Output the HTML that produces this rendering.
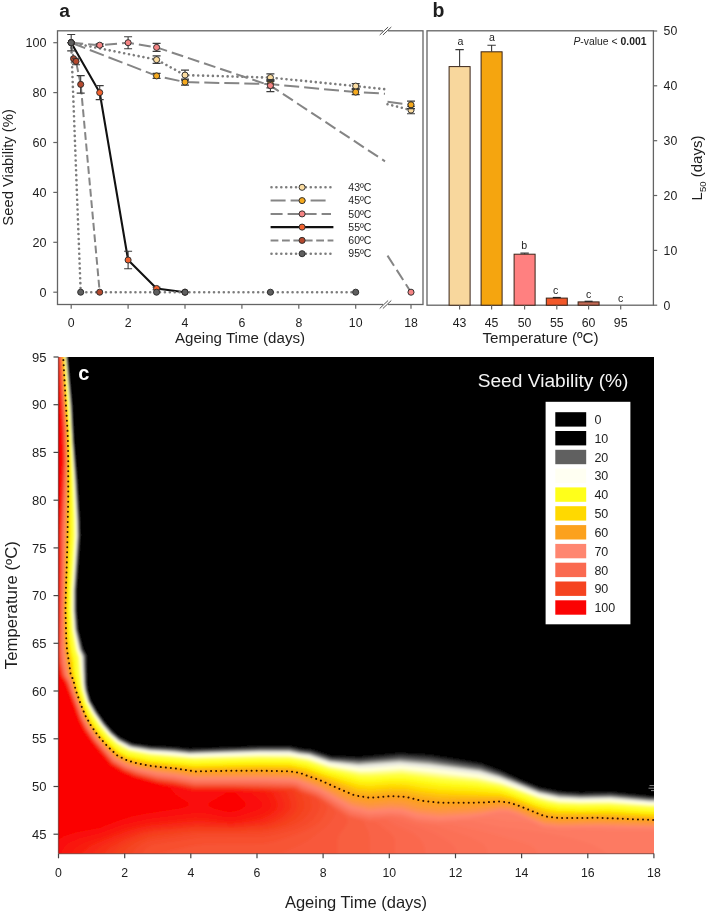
<!DOCTYPE html>
<html><head><meta charset="utf-8"><title>Seed viability</title>
<style>html,body{margin:0;padding:0;background:#fff;}svg{display:block;}text{font-family:"Liberation Sans", Arial, sans-serif;}</style>
</head><body>
<svg width="708" height="913" viewBox="0 0 708 913">
<rect width="708" height="913" fill="#fff"/>
<g fill="#1e1e1e">
<rect x="57.5" y="30.8" width="365.5" height="273.7" fill="none" stroke="#646464" stroke-width="1.3"/>
<rect x="383" y="28" width="5" height="6" fill="#fff"/>
<rect x="383" y="301.5" width="5" height="6" fill="#fff"/>
<line x1="379.7" y1="35.0" x2="388.1" y2="27.0" stroke="#555" stroke-width="1"/>
<line x1="382.9" y1="35.0" x2="391.3" y2="27.0" stroke="#555" stroke-width="1"/>
<line x1="379.7" y1="308.5" x2="388.1" y2="300.5" stroke="#555" stroke-width="1"/>
<line x1="382.9" y1="308.5" x2="391.3" y2="300.5" stroke="#555" stroke-width="1"/>
<line x1="53.3" y1="292.2" x2="57.5" y2="292.2" stroke="#646464" stroke-width="1.2"/>
<text x="46.5" y="296.7" text-anchor="end" font-size="12.6">0</text>
<line x1="53.3" y1="242.3" x2="57.5" y2="242.3" stroke="#646464" stroke-width="1.2"/>
<text x="46.5" y="246.8" text-anchor="end" font-size="12.6">20</text>
<line x1="53.3" y1="192.4" x2="57.5" y2="192.4" stroke="#646464" stroke-width="1.2"/>
<text x="46.5" y="196.9" text-anchor="end" font-size="12.6">40</text>
<line x1="53.3" y1="142.5" x2="57.5" y2="142.5" stroke="#646464" stroke-width="1.2"/>
<text x="46.5" y="147.0" text-anchor="end" font-size="12.6">60</text>
<line x1="53.3" y1="92.6" x2="57.5" y2="92.6" stroke="#646464" stroke-width="1.2"/>
<text x="46.5" y="97.1" text-anchor="end" font-size="12.6">80</text>
<line x1="53.3" y1="42.7" x2="57.5" y2="42.7" stroke="#646464" stroke-width="1.2"/>
<text x="46.5" y="47.2" text-anchor="end" font-size="12.6">100</text>
<line x1="71.2" y1="304.5" x2="71.2" y2="308.8" stroke="#646464" stroke-width="1.2"/>
<text x="71.2" y="326.6" text-anchor="middle" font-size="12.3">0</text>
<line x1="128.1" y1="304.5" x2="128.1" y2="308.8" stroke="#646464" stroke-width="1.2"/>
<text x="128.1" y="326.6" text-anchor="middle" font-size="12.3">2</text>
<line x1="185.0" y1="304.5" x2="185.0" y2="308.8" stroke="#646464" stroke-width="1.2"/>
<text x="185.0" y="326.6" text-anchor="middle" font-size="12.3">4</text>
<line x1="241.9" y1="304.5" x2="241.9" y2="308.8" stroke="#646464" stroke-width="1.2"/>
<text x="241.9" y="326.6" text-anchor="middle" font-size="12.3">6</text>
<line x1="298.8" y1="304.5" x2="298.8" y2="308.8" stroke="#646464" stroke-width="1.2"/>
<text x="298.8" y="326.6" text-anchor="middle" font-size="12.3">8</text>
<line x1="355.7" y1="304.5" x2="355.7" y2="308.8" stroke="#646464" stroke-width="1.2"/>
<text x="355.7" y="326.6" text-anchor="middle" font-size="12.3">10</text>
<line x1="411.0" y1="304.5" x2="411.0" y2="308.8" stroke="#646464" stroke-width="1.2"/>
<text x="411.0" y="326.6" text-anchor="middle" font-size="12.3">18</text>
<text x="240" y="343" text-anchor="middle" font-size="15.1">Ageing Time (days)</text>
<text transform="translate(13.1,167.4) rotate(-90)" x="-58.25" font-size="15.5" textLength="116.5" lengthAdjust="spacingAndGlyphs">Seed Viability (%)</text>
<text x="59.3" y="17" font-size="19.2" font-weight="bold">a</text>
<path d="M71.2 42.7 L156.6 59.7 L185.0 75.1 L270.4 77.6 L355.7 86.1 L385.0 89.2" fill="none" stroke="#7c7c7c" stroke-width="2.6" stroke-linecap="round" stroke-dasharray="0.01 4.9"/>
<path d="M387.5 104.2 L411.0 110.1" fill="none" stroke="#7c7c7c" stroke-width="2.6" stroke-linecap="round" stroke-dasharray="0.01 4.9"/>
<path d="M71.2 42.7 L156.6 75.9 L185.0 82.1 L270.4 84.1 L355.7 92.1 L385.0 93.7" fill="none" stroke="#858585" stroke-width="2.0" stroke-linecap="butt" stroke-dasharray="15 5"/>
<path d="M387.5 101.7 L411.0 104.8" fill="none" stroke="#858585" stroke-width="2.0" stroke-linecap="butt" stroke-dasharray="15 5"/>
<path d="M71.2 42.7 L99.7 45.2 L128.1 42.7 L156.6 47.4 L270.4 85.6 L385.0 161.3" fill="none" stroke="#858585" stroke-width="2.0" stroke-linecap="butt" stroke-dasharray="12 5"/>
<path d="M387.5 255.6 L411.0 292.2" fill="none" stroke="#858585" stroke-width="2.0" stroke-linecap="butt" stroke-dasharray="12 5"/>
<path d="M71.2 42.7 L99.7 92.6 L128.1 260.0 L156.6 288.5 L185.0 292.2" fill="none" stroke="#111" stroke-width="2.1" stroke-linecap="butt"/>
<path d="M71.2 42.7 L73.6 58.7 L76.0 61.4 L80.7 84.4 L99.7 292.2" fill="none" stroke="#858585" stroke-width="2.0" stroke-linecap="butt" stroke-dasharray="7.8 3.6"/>
<path d="M71.2 42.7 L80.7 292.2 L156.6 292.2 L185.0 292.2 L270.4 292.2 L355.7 292.2" fill="none" stroke="#7c7c7c" stroke-width="2.6" stroke-linecap="round" stroke-dasharray="0.01 4.9"/>
<circle cx="71.2" cy="42.7" r="3.05" fill="#fbdca0" stroke="#2a2a2a" stroke-width="0.95"/>
<path d="M156.6 55.9V63.4M152.6 55.9H160.6M152.6 63.4H160.6" stroke="#3c3c3c" stroke-width="1.1" fill="none"/>
<circle cx="156.6" cy="59.7" r="3.05" fill="#fbdca0" stroke="#2a2a2a" stroke-width="0.95"/>
<path d="M185.0 70.1V80.1M181.0 70.1H189.0M181.0 80.1H189.0" stroke="#3c3c3c" stroke-width="1.1" fill="none"/>
<circle cx="185.0" cy="75.1" r="3.05" fill="#fbdca0" stroke="#2a2a2a" stroke-width="0.95"/>
<path d="M270.4 73.9V81.4M266.4 73.9H274.4M266.4 81.4H274.4" stroke="#3c3c3c" stroke-width="1.1" fill="none"/>
<circle cx="270.4" cy="77.6" r="3.05" fill="#fbdca0" stroke="#2a2a2a" stroke-width="0.95"/>
<path d="M355.7 83.6V88.6M351.7 83.6H359.7M351.7 88.6H359.7" stroke="#3c3c3c" stroke-width="1.1" fill="none"/>
<circle cx="355.7" cy="86.1" r="3.05" fill="#fbdca0" stroke="#2a2a2a" stroke-width="0.95"/>
<path d="M411.0 106.3V113.8M407.0 106.3H415.0M407.0 113.8H415.0" stroke="#3c3c3c" stroke-width="1.1" fill="none"/>
<circle cx="411.0" cy="110.1" r="3.05" fill="#fbdca0" stroke="#2a2a2a" stroke-width="0.95"/>
<circle cx="71.2" cy="42.7" r="3.05" fill="#f5a91e" stroke="#2a2a2a" stroke-width="0.95"/>
<path d="M156.6 73.4V78.4M152.6 73.4H160.6M152.6 78.4H160.6" stroke="#3c3c3c" stroke-width="1.1" fill="none"/>
<circle cx="156.6" cy="75.9" r="3.05" fill="#f5a91e" stroke="#2a2a2a" stroke-width="0.95"/>
<path d="M185.0 79.1V85.1M181.0 79.1H189.0M181.0 85.1H189.0" stroke="#3c3c3c" stroke-width="1.1" fill="none"/>
<circle cx="185.0" cy="82.1" r="3.05" fill="#f5a91e" stroke="#2a2a2a" stroke-width="0.95"/>
<path d="M270.4 80.4V87.9M266.4 80.4H274.4M266.4 87.9H274.4" stroke="#3c3c3c" stroke-width="1.1" fill="none"/>
<circle cx="270.4" cy="84.1" r="3.05" fill="#f5a91e" stroke="#2a2a2a" stroke-width="0.95"/>
<path d="M355.7 89.6V94.6M351.7 89.6H359.7M351.7 94.6H359.7" stroke="#3c3c3c" stroke-width="1.1" fill="none"/>
<circle cx="355.7" cy="92.1" r="3.05" fill="#f5a91e" stroke="#2a2a2a" stroke-width="0.95"/>
<path d="M411.0 101.1V108.6M407.0 101.1H415.0M407.0 108.6H415.0" stroke="#3c3c3c" stroke-width="1.1" fill="none"/>
<circle cx="411.0" cy="104.8" r="3.05" fill="#f5a91e" stroke="#2a2a2a" stroke-width="0.95"/>
<circle cx="71.2" cy="42.7" r="3.05" fill="#f58484" stroke="#2a2a2a" stroke-width="0.95"/>
<path d="M99.7 43.9V46.4M95.7 43.9H103.7M95.7 46.4H103.7" stroke="#3c3c3c" stroke-width="1.1" fill="none"/>
<circle cx="99.7" cy="45.2" r="3.05" fill="#f58484" stroke="#2a2a2a" stroke-width="0.95"/>
<path d="M128.1 36.7V48.7M124.1 36.7H132.1M124.1 48.7H132.1" stroke="#3c3c3c" stroke-width="1.1" fill="none"/>
<circle cx="128.1" cy="42.7" r="3.05" fill="#f58484" stroke="#2a2a2a" stroke-width="0.95"/>
<path d="M156.6 43.4V51.4M152.6 43.4H160.6M152.6 51.4H160.6" stroke="#3c3c3c" stroke-width="1.1" fill="none"/>
<circle cx="156.6" cy="47.4" r="3.05" fill="#f58484" stroke="#2a2a2a" stroke-width="0.95"/>
<path d="M270.4 79.6V91.6M266.4 79.6H274.4M266.4 91.6H274.4" stroke="#3c3c3c" stroke-width="1.1" fill="none"/>
<circle cx="270.4" cy="85.6" r="3.05" fill="#f58484" stroke="#2a2a2a" stroke-width="0.95"/>
<circle cx="411.0" cy="292.2" r="3.05" fill="#f58484" stroke="#2a2a2a" stroke-width="0.95"/>
<circle cx="71.2" cy="42.7" r="3.05" fill="#f2622f" stroke="#2a2a2a" stroke-width="0.95"/>
<path d="M99.7 85.6V99.6M95.7 85.6H103.7M95.7 99.6H103.7" stroke="#3c3c3c" stroke-width="1.1" fill="none"/>
<circle cx="99.7" cy="92.6" r="3.05" fill="#f2622f" stroke="#2a2a2a" stroke-width="0.95"/>
<path d="M128.1 251.3V268.7M124.1 251.3H132.1M124.1 268.7H132.1" stroke="#3c3c3c" stroke-width="1.1" fill="none"/>
<circle cx="128.1" cy="260.0" r="3.05" fill="#f2622f" stroke="#2a2a2a" stroke-width="0.95"/>
<path d="M156.6 287.2V289.7M152.6 287.2H160.6M152.6 289.7H160.6" stroke="#3c3c3c" stroke-width="1.1" fill="none"/>
<circle cx="156.6" cy="288.5" r="3.05" fill="#f2622f" stroke="#2a2a2a" stroke-width="0.95"/>
<circle cx="185.0" cy="292.2" r="3.05" fill="#f2622f" stroke="#2a2a2a" stroke-width="0.95"/>
<circle cx="71.2" cy="42.7" r="3.05" fill="#b5492e" stroke="#2a2a2a" stroke-width="0.95"/>
<circle cx="73.6" cy="58.7" r="3.05" fill="#b5492e" stroke="#2a2a2a" stroke-width="0.95"/>
<path d="M76.0 58.2V64.7M72.0 58.2H80.0M72.0 64.7H80.0" stroke="#3c3c3c" stroke-width="1.1" fill="none"/>
<circle cx="76.0" cy="61.4" r="3.05" fill="#b5492e" stroke="#2a2a2a" stroke-width="0.95"/>
<path d="M80.7 75.6V93.1M76.7 75.6H84.7M76.7 93.1H84.7" stroke="#3c3c3c" stroke-width="1.1" fill="none"/>
<circle cx="80.7" cy="84.4" r="3.05" fill="#b5492e" stroke="#2a2a2a" stroke-width="0.95"/>
<circle cx="99.7" cy="292.2" r="3.05" fill="#b5492e" stroke="#2a2a2a" stroke-width="0.95"/>
<path d="M71.2 34.5V50.9M67.2 34.5H75.2M67.2 50.9H75.2" stroke="#3c3c3c" stroke-width="1.1" fill="none"/>
<circle cx="71.2" cy="42.7" r="3.05" fill="#5f5f5f" stroke="#2a2a2a" stroke-width="0.95"/>
<circle cx="80.7" cy="292.2" r="3.05" fill="#5f5f5f" stroke="#2a2a2a" stroke-width="0.95"/>
<circle cx="156.6" cy="292.2" r="3.05" fill="#5f5f5f" stroke="#2a2a2a" stroke-width="0.95"/>
<circle cx="185.0" cy="292.2" r="3.05" fill="#5f5f5f" stroke="#2a2a2a" stroke-width="0.95"/>
<circle cx="270.4" cy="292.2" r="3.05" fill="#5f5f5f" stroke="#2a2a2a" stroke-width="0.95"/>
<circle cx="355.7" cy="292.2" r="3.05" fill="#5f5f5f" stroke="#2a2a2a" stroke-width="0.95"/>
<line x1="271.5" y1="187.3" x2="333.0" y2="187.3" stroke="#7c7c7c" stroke-width="2.6" stroke-linecap="round" stroke-dasharray="0.01 4.9"/>
<circle cx="302.1" cy="187.3" r="3.05" fill="#fbdca0" stroke="#2a2a2a" stroke-width="0.95"/>
<text x="348.3" y="191.0" font-size="10.5">43&#186;C</text>
<line x1="270.6" y1="200.6" x2="327.3" y2="200.6" stroke="#858585" stroke-width="2.0" stroke-linecap="butt" stroke-dasharray="15 5"/>
<circle cx="302.1" cy="200.6" r="3.05" fill="#f5a91e" stroke="#2a2a2a" stroke-width="0.95"/>
<text x="348.3" y="204.3" font-size="10.5">45&#186;C</text>
<line x1="270.6" y1="213.9" x2="331.0" y2="213.9" stroke="#858585" stroke-width="2.0" stroke-linecap="butt" stroke-dasharray="12 5"/>
<circle cx="302.1" cy="213.9" r="3.05" fill="#f58484" stroke="#2a2a2a" stroke-width="0.95"/>
<text x="348.3" y="217.6" font-size="10.5">50&#186;C</text>
<line x1="270.6" y1="227.1" x2="333.4" y2="227.1" stroke="#111" stroke-width="2.1" stroke-linecap="butt"/>
<circle cx="302.1" cy="227.1" r="3.05" fill="#f2622f" stroke="#2a2a2a" stroke-width="0.95"/>
<text x="348.3" y="230.8" font-size="10.5">55&#186;C</text>
<line x1="270.6" y1="240.4" x2="333.4" y2="240.4" stroke="#858585" stroke-width="2.0" stroke-linecap="butt" stroke-dasharray="7.8 3.6"/>
<circle cx="302.1" cy="240.4" r="3.05" fill="#b5492e" stroke="#2a2a2a" stroke-width="0.95"/>
<text x="348.3" y="244.1" font-size="10.5">60&#186;C</text>
<line x1="271.5" y1="253.7" x2="333.0" y2="253.7" stroke="#7c7c7c" stroke-width="2.6" stroke-linecap="round" stroke-dasharray="0.01 4.9"/>
<circle cx="302.1" cy="253.7" r="3.05" fill="#5f5f5f" stroke="#2a2a2a" stroke-width="0.95"/>
<text x="348.3" y="257.4" font-size="10.5">95&#186;C</text>
<rect x="427" y="30.8" width="226.4" height="274.4" fill="none" stroke="#646464" stroke-width="1.3"/>
<line x1="653.4" y1="305.2" x2="657.2" y2="305.2" stroke="#646464" stroke-width="1.2"/>
<text x="663.6" y="309.6" font-size="12.3">0</text>
<line x1="653.4" y1="250.4" x2="657.2" y2="250.4" stroke="#646464" stroke-width="1.2"/>
<text x="663.6" y="254.8" font-size="12.3">10</text>
<line x1="653.4" y1="195.5" x2="657.2" y2="195.5" stroke="#646464" stroke-width="1.2"/>
<text x="663.6" y="199.9" font-size="12.3">20</text>
<line x1="653.4" y1="140.7" x2="657.2" y2="140.7" stroke="#646464" stroke-width="1.2"/>
<text x="663.6" y="145.1" font-size="12.3">30</text>
<line x1="653.4" y1="85.8" x2="657.2" y2="85.8" stroke="#646464" stroke-width="1.2"/>
<text x="663.6" y="90.2" font-size="12.3">40</text>
<line x1="653.4" y1="31.0" x2="657.2" y2="31.0" stroke="#646464" stroke-width="1.2"/>
<text x="663.6" y="35.4" font-size="12.3">50</text>
<rect x="449.1" y="66.6" width="21" height="238.6" fill="#f8d79d" stroke="#3a2418" stroke-width="1"/>
<path d="M459.6 66.6V49.6M455.4 49.6H463.8" stroke="#3a3a3a" stroke-width="1.1" fill="none"/>
<line x1="459.6" y1="305.2" x2="459.6" y2="309.4" stroke="#646464" stroke-width="1.2"/>
<text x="459.6" y="327.2" text-anchor="middle" font-size="12.3">43</text>
<text x="460.5" y="45.4" text-anchor="middle" font-size="10.6">a</text>
<rect x="481.1" y="51.8" width="21" height="253.4" fill="#f5a50f" stroke="#3a2418" stroke-width="1"/>
<path d="M491.6 51.8V45.3M487.4 45.3H495.8" stroke="#3a3a3a" stroke-width="1.1" fill="none"/>
<line x1="491.6" y1="305.2" x2="491.6" y2="309.4" stroke="#646464" stroke-width="1.2"/>
<text x="491.6" y="327.2" text-anchor="middle" font-size="12.3">45</text>
<text x="492.0" y="41.1" text-anchor="middle" font-size="10.6">a</text>
<rect x="514.1" y="254.2" width="21" height="51.0" fill="#ff8080" stroke="#3a2418" stroke-width="1"/>
<path d="M524.6 254.2V253.1M520.4 253.1H528.8" stroke="#3a3a3a" stroke-width="1.1" fill="none"/>
<line x1="524.6" y1="305.2" x2="524.6" y2="309.4" stroke="#646464" stroke-width="1.2"/>
<text x="524.6" y="327.2" text-anchor="middle" font-size="12.3">50</text>
<text x="524.2" y="248.9" text-anchor="middle" font-size="10.6">b</text>
<rect x="546.3" y="298.1" width="21" height="7.1" fill="#f2582a" stroke="#3a2418" stroke-width="1"/>
<path d="M552.8 297.5H560.8" stroke="#222" stroke-width="1.2"/>
<line x1="556.8" y1="305.2" x2="556.8" y2="309.4" stroke="#646464" stroke-width="1.2"/>
<text x="556.8" y="327.2" text-anchor="middle" font-size="12.3">55</text>
<text x="555.6" y="294.1" text-anchor="middle" font-size="10.6">c</text>
<rect x="578.1" y="301.9" width="21" height="3.3" fill="#c46a55" stroke="#3a2418" stroke-width="1"/>
<path d="M584.6 301.3H592.6" stroke="#222" stroke-width="1.2"/>
<line x1="588.6" y1="305.2" x2="588.6" y2="309.4" stroke="#646464" stroke-width="1.2"/>
<text x="588.6" y="327.2" text-anchor="middle" font-size="12.3">60</text>
<text x="588.6" y="298.2" text-anchor="middle" font-size="10.6">c</text>
<line x1="620.7" y1="305.2" x2="620.7" y2="309.4" stroke="#646464" stroke-width="1.2"/>
<text x="620.7" y="327.2" text-anchor="middle" font-size="12.3">95</text>
<text x="620.7" y="301.8" text-anchor="middle" font-size="10.6">c</text>
<text x="540.6" y="342.8" text-anchor="middle" font-size="15.2">Temperature (&#186;C)</text>
<text x="646.5" y="45.3" text-anchor="end" font-size="10.4"><tspan font-style="italic">P</tspan>-value &lt; <tspan font-weight="bold">0.001</tspan></text>
<text transform="translate(702,168) rotate(-90)" text-anchor="middle" font-size="15">L<tspan font-size="9.5" dy="3.8">50</tspan><tspan dy="-3.8"> (days)</tspan></text>
<text x="432.6" y="17" font-size="19.5" font-weight="bold">b</text>
<defs><clipPath id="cc"><rect x="58.5" y="357.0" width="595.5" height="496.6"/></clipPath><filter id="bl" x="-5%" y="-5%" width="110%" height="110%"><feGaussianBlur stdDeviation="1.1"/></filter><filter id="bl2" x="-5%" y="-5%" width="110%" height="110%"><feGaussianBlur stdDeviation="1.8"/></filter></defs>
<g clip-path="url(#cc)"><g filter="url(#bl2)"><rect x="40" y="340" width="640" height="540" fill="#fb0303"/><path fill-rule="evenodd" fill="#fa0f08" d="M59.5 346.5 665.5 346.5 665.5 865.5 48.5 865.5 48.5 850.1 56.5 840.8 64.5 835.9 76.5 832.2 99.5 828 117.5 820.9 132.5 816.3 143.5 814 179.3 808.5 186.9 806.5 189.3 804.5 187.8 802.5 175.5 794.5 169.8 787.5 135.5 778.1 123.5 772.9 110.5 764.9 92.1 742.5 83.8 730.5 78 718.5 74.5 707.4 68 691.5 65.5 683.7 61.1 677.5 60 674.5 57.7 664.5 56.7 650.5 58 631.5 59 582.5 59.1 534.5 62.9 459.5 62.5 434.5 58 358.5 58 349.5 59.5 346.5ZM226.8 792.5 209.5 802.5 207.8 804.5 208 805.5 213.9 808.5 225.5 811.5 230.5 812.1 238 810.5 242.3 808.5 244.9 806.5 245.7 804.5 245.1 802.5 236.6 793.5 234.5 792.5 226.8 792.5Z"/><path fill-rule="evenodd" fill="#f9170c" d="M59.5 347.1 59.9 346.5 665.5 346.5 665.5 865.5 57.9 865.5 59 859.5 62.4 850.5 65.5 845.9 69.5 842.7 78.5 838.7 99.5 833.6 121.5 825.2 148.5 819 195.5 813 204.5 813.3 227.5 817.4 234.5 817.3 244.6 814.5 258.6 809.5 261.6 807.5 262.8 804.5 260.4 800.5 250.8 792.5 245.8 791.5 230.5 790.7 197.5 792.2 179.7 787.5 155.5 783.2 134.5 777.1 123.5 772.3 112.5 765.8 109.9 763.5 91.9 741.5 84.4 730.5 78.9 719.5 74.5 706.2 65.5 682.6 61.1 676.5 58 663.5 57.3 651.5 58.5 632.5 59.5 584.5 59.8 528.5 61.5 504.5 63.4 460.5 62.5 426.2 58.6 362.5 58.5 350.5 59.5 347.1Z"/><path fill-rule="evenodd" fill="#f81f10" d="M60.5 346.5 665.5 346.5 665.5 865.5 66.9 865.5 68 860.5 71.5 853.6 75.3 848.5 78.9 845.5 85.5 842.2 101.5 837.3 125.5 828 148.5 822.8 195.5 817.6 203.5 817.7 227.5 820.9 237.3 820.5 250.7 817.5 263.5 813.4 269.2 809.5 270.6 807.5 271.1 804.5 269.9 800.5 265.5 793.8 264.3 792.5 261 791.5 231.5 790.1 193.5 790.1 183.4 787.5 156.5 783 135.5 777 123.5 771.8 112.5 765.4 110.4 763.5 92.3 741.5 84.7 730.5 79.3 719.5 65.7 682.5 61.1 675.5 58.4 663.5 57.7 651.5 58.8 631.5 59.7 583.5 59.9 534.5 63.6 460.5 62.6 422.5 58.7 358.5 58.7 349.5 60.5 346.5Z"/><path fill-rule="evenodd" fill="#f82713" d="M60.5 346.6 665.5 346.5 665.5 865.5 75.9 865.5 76.9 861.5 79.8 856.5 83.8 851.5 88.5 847.4 93.9 844.5 116.5 835 130.5 829.9 141.5 827.1 151.5 825.3 195.5 821.1 202.5 821 230.5 823.5 248.4 821.5 261.5 818.7 269 815.5 273.2 812.5 276.1 809.5 277.2 807.5 277.7 804.5 276.7 800.5 273.1 793.5 270.7 791.5 259.5 790.4 231.5 789.5 194.5 789.6 175.6 785.5 157.5 782.7 133.5 775.8 123.5 771.4 110.8 763.5 91.9 740.5 85 730.5 79.6 719.5 66.5 683.6 61.5 675.5 58.7 663.5 57.9 651.5 59 631.5 60 582.5 60.1 534.5 63.8 460.5 63.5 437.5 58.8 357.5 58.9 349.5 60.5 346.6Z"/><path fill-rule="evenodd" fill="#f72f17" d="M60.5 346.9 665.5 346.5 665.5 865.5 84.8 865.5 86.2 861.5 89.5 856.9 94.7 851.5 100 847.5 115.1 839.5 135.8 831.5 152.5 827.8 194.5 823.9 202.5 823.7 232.5 825.5 259.2 822.5 268.5 820 276.6 815.5 282.8 809.5 283.8 807.5 284.2 804.5 283.3 800.5 279.7 792.5 277.5 791.3 272.5 790.5 250.3 789.5 194.5 789 175.5 785 157.5 782.3 134.5 775.9 123.5 771.1 111.1 763.5 92.2 740.5 85.3 730.5 79.8 719.5 66.5 683 61.7 675.5 59 663.5 58.2 651.5 59.3 631.5 60.5 569.5 60.4 534.5 64 460.5 63.5 434 59 357.5 59.1 349.5 60.5 346.9Z"/><path fill-rule="evenodd" fill="#f6371b" d="M60.5 347.1 61 346.5 665.5 346.5 665.5 865.5 93.8 865.5 94.8 862.5 97.8 858.5 111 846.5 124.1 839.5 141.5 832.8 154.5 830.1 195.5 826.2 233.5 827.3 263.5 824.5 273.9 821.5 282.5 816.8 288.9 810.5 290.4 807.5 290.8 804.5 289.9 800.5 286.3 791.5 282.5 790.5 231.5 788.5 194.5 788.6 174.5 784.4 157.5 781.9 134.5 775.5 123.5 770.7 111.5 763.5 93.2 741.5 85 729.5 79.6 718.5 66.6 682.5 62 675.5 59.2 662.5 58.5 649.5 59.5 631.5 60.6 570.5 60.6 534.5 64.1 460.5 63.5 430.5 59.2 357.5 59.3 349.5 60.5 347.1Z"/><path fill-rule="evenodd" fill="#f53f1e" d="M60.5 347.4 61.2 346.5 665.5 346.5 665.5 865.5 103.4 865.5 104 863.5 106.1 860.5 115.5 850.5 120.1 846.5 130.9 840.5 145.5 834.7 156.5 832.5 195.5 828.4 234.5 829.1 256.5 827.8 267.5 826.4 279.5 823 288 818.5 291.6 815.5 295 811.5 297 807.5 297.3 804.5 296.6 800.5 293.5 791.5 292.1 790.5 289.5 790 231.5 788 194.5 788.1 174.5 783.9 157.5 781.5 135.5 775.5 123.5 770.4 111.9 763.5 92.8 740.5 85.3 729.5 79.8 718.5 66.8 682.5 62.3 675.5 59.5 662.5 58.7 649.5 59.7 632.5 60.8 570.5 60.8 534.5 64.3 460.5 63.6 430.5 59.4 357.5 59.4 349.5 60.5 347.4Z"/><path fill-rule="evenodd" fill="#f54523" d="M61.5 346.5 665.5 346.5 665.5 865.5 114.1 865.5 116.5 860.5 128 847.5 135.7 842.5 147.3 837.5 156.7 835.5 196.5 830.7 237.5 831.1 261.5 829.8 272.5 828.1 285.5 824.4 294.9 819.5 299.2 815.5 302.9 810.5 304.2 807.5 304.3 803.5 301.3 794.5 295.9 790.5 293.1 789.5 231.5 787.5 194.5 787.6 175.5 783.7 157.5 781 135.5 775.1 123.5 770.1 112.4 763.5 93.5 741.1 85.5 729.5 80 718.5 67 682.5 62.5 675.5 59.7 662.5 59 651.5 61 569.5 61 534.5 64.5 460.5 63.8 430.5 59.5 357.5 59.6 349.5 61.5 346.5Z"/><path fill-rule="evenodd" fill="#f64a29" d="M61.5 346.6 665.5 346.5 665.5 865.5 124.8 865.5 127 860.5 136.2 848.5 142.5 843.8 149.5 840.7 155.5 839.4 197.5 833.5 233.5 833.6 257.5 832.9 266.5 832.2 277.5 830.1 292.5 825.8 297.7 823.5 302.4 820.5 306.6 816.5 310.2 811.5 311.8 807.5 311.9 804.5 310.5 798.5 309.1 796.5 300.5 792.6 295.5 789.4 293.5 788.9 231.5 787 194.5 787.1 174.5 783 157.5 780.6 135.5 774.8 124.5 770.2 112.5 763.3 93.5 740.8 85.5 729.1 80.2 718.5 67.2 682.5 62.8 675.5 60 662.5 59.2 651.5 61.2 569.5 61.2 534.5 64.6 460.5 63.9 430.5 59.6 357.5 59.7 349.5 61.5 346.6Z"/><path fill-rule="evenodd" fill="#f74f2f" d="M61.5 346.8 665.5 346.5 665.5 865.5 135.6 865.5 137.4 860.5 144.7 849.5 148.5 846.4 153.5 844.5 200.5 837.3 264.5 836.6 278.5 833.8 295.5 829.2 306.3 824.5 312.8 819.5 318.2 811.5 319.5 807.5 319.5 804.5 318.3 800.5 314.5 797.5 301.5 792.3 294.5 788.5 289.5 787.9 231.5 786.5 194.5 786.6 174.5 782.6 157.5 780.2 135.5 774.4 124.5 769.9 112.5 762.9 93.6 740.5 86 729.5 80.4 718.5 67.4 682.5 63 675.5 60.3 662.5 59.5 651.5 61.4 569.5 61.4 534.5 64.7 460.5 64 430.5 59.8 357.5 59.9 349.5 61.5 346.8Z"/><path fill-rule="evenodd" fill="#f75435" d="M61.5 347 61.7 346.5 665.5 346.5 665.5 865.5 146.7 865.5 147.5 862.5 149.5 859.5 152.5 856.6 155.5 854.9 170.8 850.5 189.2 846.5 204.5 844.4 263.5 844 272.5 842.2 286.5 838 305.5 831 312.5 827.6 317.1 824.5 321.2 820.5 324.5 815.5 326.7 810.5 327.3 806.5 325.9 804.5 322.6 801.5 316.4 797.5 301.5 791.7 294.5 787.9 231.5 786 194.5 786.1 174.5 782.1 157.5 779.7 135.5 774 124.5 769.5 112.5 762.5 93.8 740.5 86.2 729.5 80.5 718.1 67.7 682.5 63.3 675.5 60.5 662.5 59.7 650.5 61.6 569.5 61.6 534.5 64.9 460.5 64.2 430.5 59.9 357.5 60 349.5 61.5 347Z"/><path fill-rule="evenodd" fill="#f8593b" d="M61.5 347.2 61.8 346.5 665.5 346.5 665.5 865.5 191 865.5 194.8 862.5 202.5 860.6 258.5 860.3 263.5 859.8 268.5 858.4 299.5 845.6 307.5 841.2 323.5 829 328.4 824.5 333.6 817.5 335.4 813.5 335.6 811.5 329.2 805.5 319.5 798.5 313.5 795.3 301.5 791 294.5 787.4 231.5 785.5 194.5 785.6 174.5 781.6 157.5 779.3 135.5 773.6 124.5 769.2 112.5 762.2 94.1 740.5 86.5 729.5 80.5 717.6 67.9 682.5 63.6 675.5 60.8 662.5 59.9 650.5 61.8 569.5 61.8 534.5 65 460.5 64.3 430.5 60 357.5 60.1 349.5 61.5 347.2Z"/><path fill-rule="evenodd" fill="#f85e41" d="M61.5 347.4 61.9 346.5 665.5 346.5 665.5 865.5 337.4 865.5 337.5 842.5 338.1 837.5 340 833.5 346.3 825.5 347.4 822.5 347.7 819.5 344 815.5 326.5 802.5 314.5 795.1 301.5 790.4 295.5 787 290.5 786.4 231.5 785 193.5 784.9 174.5 781.2 157.5 778.8 137.5 773.8 124.5 768.8 112.5 761.8 94.4 740.5 86.2 728.5 80.7 717.5 68.1 682.5 63.9 675.5 61.1 662.5 60.2 648.5 61.9 569.5 62 534.5 65.1 460.5 64.5 431.5 60.2 357.5 60.3 349.5 61.5 347.4Z"/><path fill-rule="evenodd" fill="#f96347" d="M62.5 346.5 665.5 346.5 665.5 865.5 370 865.5 369.7 837.5 368.5 832.5 364 822.5 360.8 820.5 348.5 816.9 319.5 797.1 314.5 794.4 301.5 789.8 296.5 786.8 289.5 785.7 258.5 784.9 194.5 784.6 174.5 780.7 157.5 778.4 137.5 773.4 124.5 768.5 112.6 761.5 94.5 740.2 86.4 728.5 80.9 717.5 68.3 682.5 64.1 675.5 61.4 662.5 60.4 645.5 62.1 569.5 62.2 534.5 65.2 460.5 64.6 430.5 60.3 356.5 60.4 349.5 62 346.5 62.5 346.5Z"/><path fill-rule="evenodd" fill="#fa684d" d="M62.5 346.5 665.5 346.5 665.5 865.5 395 865.5 394.7 839.5 393 835.5 389.9 832.5 376.5 822.2 367.5 821 348.5 815.8 319.5 796.4 314.5 793.8 301.5 789.1 296.5 786.2 289.5 785.2 258.5 784.3 194.5 784 174.5 780.2 157.5 777.9 138.5 773.3 124.5 768.1 113.1 761.5 94.5 739.9 86.5 728.2 81.1 717.5 68.2 681.5 64.4 675.5 61.7 662.5 60.7 644.5 62.3 569.5 62.4 534.5 65.4 460.5 64.7 430.5 60.4 356.5 60.5 349.5 62.5 346.5Z"/><path fill-rule="evenodd" fill="#fa6c52" d="M62.5 346.5 665.5 346.5 665.5 865.5 425 865.5 424.9 851.5 424 846.5 422 842.5 419.1 838.5 413.1 833.5 396.5 826 386.5 820.3 383.5 819.7 368.5 820.1 349.5 815.3 319.5 795.6 314.5 793.1 301.6 788.5 296.5 785.6 289.5 784.6 258.5 783.8 194.5 783.5 174.5 779.7 157.5 777.4 137.5 772.6 124.5 767.7 113.5 761.4 94.5 739.5 86.5 727.8 81.3 717.5 68.4 681.5 64.7 675.5 62 662.5 61 643.5 62.6 534.5 65.5 460.5 64.8 430.5 60.5 356.5 60.7 349.5 62.5 346.5Z"/><path fill-rule="evenodd" fill="#fb6f56" d="M62.5 346.5 665.5 346.5 665.5 865.5 456.3 865.5 456 851.5 454.2 846.5 448.4 841.5 435.1 833.5 423.2 828.5 393.9 818.5 389.5 818 369.5 819.2 350.5 814.7 346.5 812.6 319.5 794.9 314.5 792.4 302.5 788.2 296.5 784.9 289.5 784 258.5 783.2 194.5 782.9 174.5 779.2 157.5 776.9 138.5 772.5 124.9 767.5 113.5 761 94.8 739.5 86.5 727.3 81.5 717.4 71.5 690.7 68.7 681.5 65 675.5 62.3 662.5 61.2 649.5 61.6 609.5 62.7 569.5 62.9 534.5 65.6 460.5 65 430.5 60.6 356.5 60.8 349.5 62.5 346.5Z"/><path fill-rule="evenodd" fill="#fc735a" d="M62.5 346.5 665.5 346.5 665.5 865.5 487.5 865.5 487.4 852.5 486.1 847.5 483.5 844.5 480.8 842.5 471.1 837.5 438.3 826.5 416.5 822.8 402.5 818.1 390.5 816.8 369.5 818.1 350.5 813.7 319.5 794.2 314.5 791.7 302.5 787.5 296.5 784.3 289.5 783.4 258.5 782.6 194.5 782.4 174.5 778.6 157.5 776.5 137.5 771.8 125.5 767.4 113.5 760.6 94.5 738.7 87.4 728.5 82.2 718.5 71.7 690.5 68.9 681.5 65.3 675.5 62.5 661.5 61.5 649.5 61.8 609.5 63.1 534.5 65.8 460.5 65.1 430.5 60.8 357.5 60.9 349.5 62.5 346.5Z"/><path fill-rule="evenodd" fill="#fc765e" d="M62.5 346.5 665.5 346.5 665.5 865.5 537.5 865.5 537.4 853.5 536.3 849.5 534.7 847.5 531.7 845.5 524.2 842.5 480.7 830.5 453.5 824.2 447.5 823.7 437.5 823.9 419.5 822 415.5 821.2 402.5 816.8 391.5 815.8 369.5 817.1 351.5 813 347.5 811.1 319.5 793.4 315.5 791.4 302.5 786.8 296.5 783.7 289.5 782.8 258.5 782 194.5 781.8 174.5 778.1 157.5 775.9 138.1 771.5 125.5 767 113.5 760.2 94.7 738.5 87.7 728.5 82.5 718.5 72.3 691.5 69.2 681.5 65.6 675.5 62.9 661.5 61.8 649.5 62 609.5 63.3 534.5 65.9 460.5 65.2 430.5 60.9 357.5 60.9 350.5 62.5 346.5Z"/><path fill-rule="evenodd" fill="#fd7a62" d="M62.5 346.6 665.5 346.5 665.5 864.5 618.5 864.3 618.4 863.5 617.5 863.3 617.3 862.5 602.4 850.5 592.2 844.5 572.2 838.5 543.5 832.7 500.5 827.4 472.5 821.4 462.5 821.3 438.5 822.7 417.5 820.5 401.5 815.5 390.5 814.6 371.5 816 367.5 815.7 349.5 811.2 319.5 792.7 295.5 782.8 289.5 782.1 258.5 781.3 194.5 781.2 174.5 777.6 157.5 775.4 137.5 770.9 125.5 766.6 113.5 759.7 95 738.5 88 728.5 82.5 718 72.5 691.5 69.4 681.5 65.9 675.5 63.2 661.5 62.1 649.5 62.2 609.5 63.6 534.5 66 460.5 65.4 430.5 61.1 357.5 61.1 350.5 62.5 346.6Z"/><path fill-rule="evenodd" fill="#fd7d66" d="M62.5 346.8 665.5 346.5 665.5 831.1 607.5 830.4 579.5 829 558.5 829.2 543.5 827.8 530.5 822.5 527.5 821.8 502.5 819.9 488.5 817.3 466.5 819.7 438.5 821.5 417.5 819.3 401.5 814.4 390.5 813.5 368.5 814.8 350.5 810.6 319.5 791.9 302.5 785.4 296.5 782.4 289.5 781.5 258.5 780.7 194.5 780.6 174.5 777 157.5 774.9 137.8 770.5 125.5 766.2 114.5 760.1 95.5 738.8 88.3 728.5 83 718.5 72.5 690.9 69.7 681.5 66.3 675.5 63.5 661.5 62.4 649.5 62.4 609.5 63.8 534.5 66.2 460.5 65.5 430.5 61.2 357.5 61.2 350.5 62.5 346.8Z"/><path fill-rule="evenodd" fill="#fe816a" d="M62.5 347.1 62.6 346.5 665.5 346.5 665.5 829.3 598.5 827.7 559.5 828.2 544.5 826.9 541.5 826.3 529.6 820.5 517 815.5 506.5 812.8 499.5 812.7 480.5 816.6 468.5 818.4 439.5 820.3 417.5 818 402.5 813.3 390.5 812.4 368.5 813.7 350.5 809.5 319.5 791.1 302.5 784.6 296.5 781.7 289.5 780.8 258.5 780 194.5 780 174.5 776.4 157.5 774.4 139.6 770.5 125.5 765.7 114.5 759.7 95.5 738.3 88.5 728.4 83.3 718.5 72.6 690.5 70 681.5 66.5 675.3 63.9 661.5 62.7 648.5 62.6 609.5 66.3 459.5 65.6 430.5 61.3 357.5 61.3 350.5 62.5 347.1Z"/><path fill-rule="evenodd" fill="#ff846e" d="M62.5 347.3 62.7 346.5 665.5 346.5 665.5 828.5 619.5 827.7 598.5 826.8 559.5 827.4 544.5 826.1 541.5 825.4 531.5 820.5 517 814.5 506.5 811.6 499.5 811.5 480.5 815.6 468.5 817.3 439.5 819 417.5 816.7 402.5 812.1 390.5 811.2 369.5 812.6 350.5 808.3 319.5 790.2 296.5 781 289.5 780.1 258.5 779.3 194.5 779.4 174.5 775.8 157.5 773.8 137.6 769.5 125.5 765.3 114.5 759.2 96 738.5 88.5 727.8 83.5 718.4 72.8 690.5 70.3 681.5 66.6 674.5 64.2 661.5 63 648.5 62.8 609.5 66.4 459.5 65.8 430.5 61.5 357.5 61.5 350.5 62.5 347.3Z"/><path fill-rule="evenodd" fill="#ff886b" d="M63.5 346.5 665.5 346.5 665.5 827.8 598.5 826.1 559.5 826.7 544.5 825.3 541.5 824.5 517.5 813.9 506.5 810.8 499.5 810.7 480.8 814.5 468.5 816.1 439.5 817.7 417.5 815.3 402.5 810.8 390.5 810 369.5 811.4 351.4 807.5 319.5 789.4 296.5 780.3 289.5 779.4 259.5 778.7 194.5 778.7 174.5 775.2 157.5 773.2 139.5 769.5 126.5 765.3 114.5 758.7 96.4 738.5 88.6 727.5 83.5 717.9 73.5 691.5 70.5 681.5 66.9 674.5 64.6 661.5 63.3 648.5 63.1 609.5 66.6 460.5 65.9 430.5 61.6 356.5 61.7 349.5 62.7 346.5 63.5 346.5Z"/><path fill-rule="evenodd" fill="#fe8b60" d="M63.5 346.5 665.5 346.5 665.5 827.1 599.5 825.3 559.5 825.9 544.5 824.5 517.5 813.1 507.5 810.1 499.5 809.8 480.5 813.5 469.5 814.8 439.5 816.4 418.5 814.1 402.5 809.5 390.5 808.8 369.5 810.2 351.5 806.3 320.5 789 297.5 779.8 289.5 778.7 259.5 777.9 194.5 778 175.5 774.7 156.7 772.5 137.6 768.5 125.8 764.5 114.9 758.5 104.5 747.7 96.5 738.2 88.9 727.5 83.6 717.5 73.5 690.9 70.8 681.5 67.3 674.5 65 661.5 63.5 644.9 63.3 609.5 66.8 460.5 66.1 430.5 61.7 356.5 61.9 349.5 62.8 346.5 63.5 346.5Z"/><path fill-rule="evenodd" fill="#fe8e56" d="M63.5 346.5 665.5 346.5 665.5 826.3 599.5 824.5 560.5 825.1 544.5 823.6 517.5 812.3 506.5 809.2 499.5 809 480.5 812.4 469.5 813.6 439.5 814.9 418.5 812.7 402.5 808.1 390.5 807.4 369.5 808.9 351.5 805 318.5 787.1 297.5 779 289.5 777.9 259.5 777.2 194.5 777.3 174.5 773.9 157.5 772 139.9 768.5 126.5 764.3 115.5 758.5 105.5 748.3 96.5 737.7 89.3 727.5 83.9 717.5 73.6 690.5 71.2 681.5 67.7 674.5 65.4 661.5 64 648.5 63.5 609.5 66.9 460.5 66.3 430.5 61.9 356.5 62 349.5 62.8 346.5 63.5 346.5Z"/><path fill-rule="evenodd" fill="#fe924c" d="M63.5 346.5 665.5 346.5 665.5 825.6 599.5 823.7 560.5 824.2 545.5 822.8 542.5 822.2 518.5 811.8 509.5 808.8 506.5 808.4 499.5 808.1 480.5 811.2 469.5 812.2 439.5 813.4 418.5 811.1 402.5 806.7 389.5 806.1 369.5 807.5 352.5 804.1 318.5 786.2 297.5 778.2 289.5 777.1 259.5 776.4 194.5 776.6 174.5 773.2 157.5 771.4 138.1 767.5 126.5 763.8 115.5 757.9 105.5 747.7 96.8 737.5 89.5 727.2 84.2 717.5 74.3 691.5 71.1 680.5 68.1 674.5 65.7 660.5 64.2 644.5 63.8 609.5 67.1 459.5 66.4 430.5 62 356.5 62.1 349.5 62.9 346.5 63.5 346.5Z"/><path fill-rule="evenodd" fill="#fd9541" d="M63.5 346.5 665.5 346.5 665.5 824.7 599.5 822.8 560.5 823.3 545.5 821.9 542.5 821.2 516.5 810.2 508.5 807.7 501.5 807.2 470.5 810.8 439.5 811.9 418.5 809.5 403.5 805.3 390.5 804.6 369.5 806.1 352.5 802.7 319.5 785.7 297.5 777.4 289.5 776.3 259.5 775.5 194.5 775.8 175.5 772.7 156.5 770.5 140.7 767.5 126.5 763.2 115.7 757.5 105.5 747.2 97.2 737.5 89.5 726.6 84.5 717.4 74.5 691.2 71.5 680.5 68.5 674.5 66.2 660.5 64.5 643.3 64.1 609.5 66.8 499.5 67.2 459.5 66.6 430.5 62.2 357.5 62.3 349.5 62.9 346.5 63.5 346.5Z"/><path fill-rule="evenodd" fill="#fd9937" d="M63.5 346.5 665.5 346.5 665.5 823.8 599.5 821.9 560.5 822.3 545.5 820.9 516.5 809.2 509.5 806.9 501.5 806.1 471.5 809.2 440.5 810.2 419.5 808 403.5 803.7 389.5 803.1 369.5 804.5 352.5 801.2 319.5 784.6 297.5 776.4 289.5 775.4 259.5 774.6 194.5 774.9 143.6 767.5 127.5 763 116.5 757.4 106.4 747.5 97.5 737.3 90.5 727.5 84.5 716.6 74.6 690.5 71.9 680.5 69 674.5 65.4 651.5 64.4 609.5 67.1 500.5 67.4 460.5 66.7 430.5 62.4 357.5 62.4 349.5 63 346.5 63.5 346.5Z"/><path fill-rule="evenodd" fill="#fd9c2d" d="M63.5 346.5 665.5 346.5 665.5 822.8 599.5 820.8 560.5 821.2 545.5 819.7 519.5 809.2 510.5 806.1 500.5 804.9 472.8 807.5 440.5 808.3 419.5 806 403.5 801.9 389.5 801.3 369.5 802.8 353.5 799.9 319.5 783.4 298.5 775.6 289.5 774.4 260.5 773.6 194.5 774 175.5 771 157.5 769.1 142.5 766.5 127.5 762.4 116.5 756.7 106.5 747 97.5 736.7 90.5 726.8 84.8 716.5 74.9 690.5 72.3 680.5 69.5 674.5 65.8 650.5 64.7 609.5 67.3 500.5 67.6 460.5 66.9 430.5 62.5 357.5 62.5 349.5 63 346.5 63.5 346.5Z"/><path fill-rule="evenodd" fill="#fc9f22" d="M63.5 346.5 665.5 346.5 665.5 821.7 599.5 819.6 560.5 819.9 546.2 818.5 510.5 804.8 500.5 803.6 478.5 805.4 440.5 806.1 419.5 803.8 403.5 799.8 389.5 799.3 369.5 800.8 353.5 797.9 319.5 782 297.5 774.2 289.5 773.1 259.5 772.4 194.5 772.9 175.5 769.9 150.5 767.2 139.5 765 127.5 761.6 116.5 756 106.5 746.4 97.9 736.5 90.7 726.5 85.2 716.5 79.8 703.5 75.2 690.5 72.7 680.5 70 674.5 66.3 650.5 64.9 609.5 67.6 500.5 67.7 460.5 67 430.5 62.7 357.5 62.6 349.5 63.1 346.5 63.5 346.5Z"/></g><g filter="url(#bl)"><path fill-rule="evenodd" fill="#fca819" d="M63.5 346.5 665.5 346.5 665.5 820.4 600.5 818.3 557.5 818.2 544.5 816.5 510.8 803.5 500.5 802 478.5 803 440.5 803.3 420.5 801 403.5 797.1 389.5 796.7 369.5 798.1 354.5 795.7 319.6 780.5 297.5 772.9 289.5 771.8 259.5 771.1 194.5 771.7 175.5 768.9 149.5 766.2 139.5 764.2 127.5 761 116.5 755.2 106.5 745.8 98.3 736.5 91.1 726.5 85 715.5 75.9 691.5 73 680.5 70.5 674.5 66.7 650.5 65.9 638.5 65.2 609.5 67.8 500.5 67.9 460.5 67.2 430.5 62.8 357.5 62.7 349.5 63.5 346.5Z"/><path fill-rule="evenodd" fill="#fdb612" d="M63.5 346.5 665.5 346.5 665.5 818.8 651.5 818.7 600.5 816.4 559.5 816.5 545.5 814.7 511.5 801.9 500.5 799.8 440.5 799.9 420.5 797.6 404.5 794 389.5 793.6 368.5 794.9 355.5 793 320.5 778.8 299.3 771.5 288.5 770 260.5 769.4 194.5 770.2 144.5 764.1 127.5 759.9 117.5 754.8 107.5 745.8 99.1 736.5 91.2 725.5 86.1 716.5 80.9 704.5 77.1 693.5 73.5 679.9 71.1 673.5 67.4 649.5 66.2 631.5 65.7 609.5 67.7 535.5 68.2 460.5 67.5 430.5 63 357.5 62.9 349.5 63.5 346.5Z"/><path fill-rule="evenodd" fill="#fec40b" d="M63.5 346.5 665.5 346.5 665.5 817.5 649.5 817.3 601.5 815 557.5 814.7 545.5 813 511.5 800.4 500.5 798 440.5 797 421.5 794.8 404.5 791.3 389.5 791 370.5 792.4 357.5 790.9 304.1 771.5 290.5 768.8 259.5 768.1 194.5 769 147.5 763.7 128.5 759.4 117.5 753.9 108 745.5 99 735.5 91.8 725.5 86.1 715.5 81.4 704.5 77.2 692.5 72 674.5 68 649.5 66.9 636.5 66.1 609.5 68.2 534.5 68.5 460.5 67.7 430.5 63.3 357.5 63.5 346.5Z"/><path fill-rule="evenodd" fill="#ffd204" d="M63.5 346.5 665.5 346.5 665.5 816.3 648.5 816.2 608.5 813.9 557.5 813.3 545.5 811.4 511.5 799 500.5 796.3 440.5 794.3 421.5 792.1 404.5 788.7 389.5 788.5 370.5 790 357.5 788.6 305.3 770.5 290.5 767.5 259.5 766.9 193.5 767.9 147.5 762.9 128.5 758.7 117.5 753.1 108.5 745.3 99.6 735.5 92.3 725.5 86.1 714.5 81.8 704.5 77.3 691.5 72.4 673.5 70.7 659.5 68.6 649.5 67.2 632.5 66.5 609.5 68.7 534.5 68.8 460.5 68 430.5 64 365.5 63.5 346.5Z"/><path fill-rule="evenodd" fill="#ffde03" d="M63.5 347.2 63.6 346.5 665.5 346.5 665.5 815.3 648.5 815.1 608.5 812.7 579.5 812.8 557.5 812.1 544.5 809.8 535.5 807 511.5 797.8 500.5 794.9 440.5 792.2 421.5 789.9 404.5 786.7 389.5 786.5 370.5 788 360.5 787.1 356.5 786.5 345.5 782.9 305.5 769.3 290.5 766.4 259.5 765.8 196.5 767.1 190.5 766.7 148.5 762.3 139.5 760.6 127.5 757.7 117.5 752.4 108.5 744.6 100.2 735.5 92.8 725.5 86.5 714.4 82.2 704.5 77.1 689.5 72.9 673.5 71.4 659.5 69.2 649.5 67.5 631.5 66.9 609.5 69.1 534.5 69.1 460.5 68.2 430.5 63.5 347.2Z"/><path fill-rule="evenodd" fill="#ffe70a" d="M64.5 346.5 665.5 346.5 665.5 814.3 648.5 814.2 609.5 811.6 579.5 811.8 558.5 811.1 546.5 809.1 537.5 806.5 511.5 796.7 499.5 793.4 474.5 791.5 440.5 790.1 422.5 787.9 405.5 784.8 389.5 784.6 370.5 786.1 359.5 785.2 326.5 775.5 306.5 768.5 288.5 765.1 259.5 764.8 195.5 766.2 149.5 761.7 128.5 757.4 119.5 753.1 115.5 750.1 108.5 743.9 99.5 734 93.3 725.5 86.5 713.4 82.5 704.3 77.5 689.5 73.5 673.5 72 659.5 69.5 648 68 631.5 67.3 609.5 69.5 534.5 69.4 460.5 68.5 430.5 64 357.5 63.6 348.5 63.8 346.5 64.5 346.5Z"/><path fill-rule="evenodd" fill="#fff110" d="M64.5 346.5 665.5 346.5 665.5 813.3 648.5 813.2 609.5 810.4 579.5 810.7 558.5 809.9 547.5 808.1 536.5 805.1 511.5 795.5 499.5 792 474.5 789.7 440.5 787.9 422.5 785.7 405.5 782.8 389.5 782.6 370.5 784.1 359.5 783.4 326.5 774.2 306.5 767.3 288.5 764.1 259.5 763.7 194.5 765.2 149.5 761 128.5 756.7 119.8 752.5 115.5 749.4 105.5 740.1 96.5 729.2 88.5 716.5 83.5 705.7 78.5 691.4 74.1 673.5 72.7 659.5 70.5 650.8 69.5 643.6 68.4 631.5 67.7 609.5 70 534.5 69.9 465.5 68.9 431.5 64.2 357.5 63.9 348.5 64 346.5 64.5 346.5Z"/><path fill-rule="evenodd" fill="#fffa17" d="M64.5 346.5 665.5 346.5 665.5 812.2 648.5 812.1 609.5 809.2 579.5 809.6 558.5 808.7 547.5 806.8 536.5 803.9 510.5 793.9 501.5 791 495.5 790 475.5 787.8 440.5 785.8 405.5 780.8 389.5 780.7 370.5 782.2 359.5 781.6 326.5 772.9 306.5 766.1 288.5 762.9 259.5 762.6 194.5 764.2 149.5 760.1 127.5 755.5 119.5 751.5 115.4 748.5 105.5 739.2 94.5 725.4 88.5 715.3 83.5 704.4 78.5 689.6 75.5 676.4 74.5 671.5 73.6 660.5 71.5 652.5 69.5 639 68.3 609.5 68.5 587.8 70.5 535.5 70.2 461.5 69.2 430.5 64.4 357.5 64.5 346.5Z"/><path fill-rule="evenodd" fill="#ffff35" d="M64.5 346.5 665.5 346.5 665.5 810.5 649.5 810.4 609.5 807.4 579.5 807.7 558.5 806.8 548.5 805.1 537.5 802.3 504.5 789.9 494.5 787.7 475.5 785.2 440.5 782.8 405.5 778 390.5 777.9 370.5 779.4 359.5 779 327.5 771.3 306.5 764.2 288.5 761.1 259.5 760.8 194.5 762.5 149.3 758.5 128.5 754.3 120.7 750.5 115 746.5 106.5 738.5 97.5 727.6 89.5 714.9 84.5 704.4 80.5 692.7 78.5 684.5 76.2 672.5 74.9 658.5 72.5 650.5 70.6 637.5 69.2 609.5 69.5 585 71.6 534.5 71.2 474.5 69.7 433.5 64.7 357.5 64.5 346.5Z"/><path fill-rule="evenodd" fill="#ffff6b" d="M65.5 346.5 665.5 346.5 665.5 807.7 649.5 807.6 609.5 804.7 579.5 805.1 558.5 804.2 547.5 802.3 538.5 799.8 514.3 790.5 501.8 786.5 476.5 781.7 442.5 778.9 401.5 773.9 370.5 775.7 359.5 775.4 328.5 768.9 306.9 761.5 289.5 758.5 259.5 758.2 194.5 759.7 149.5 755.7 129.5 751.8 121.5 747.9 115.5 743.7 107.8 736.5 100.1 727.5 92 715.5 85.7 703.5 81.2 688.5 78.7 672.5 77.6 657.5 74.9 649.5 71.8 630.5 70.7 610.5 70.8 591.5 73.5 540.3 73.5 515.8 70.2 433.5 65 357.5 65.5 346.5Z"/><path fill-rule="evenodd" fill="#ffffa1" d="M66.5 346.5 665.5 346.5 665.5 806.2 649.5 806.1 609.5 803.2 579.5 803.5 559.5 802.7 548.5 800.8 538.5 798.1 513.4 788.5 500.5 784.3 477.5 779.5 442.5 776.3 401.5 771.4 370.5 773.3 360.5 773.3 329.5 767.4 308.5 760.3 289.5 756.9 259.5 756.6 194.5 758.2 149.5 754.3 129.5 750.4 122.5 747 116.5 743 108.5 735.6 100 725.5 92.1 713.5 86.3 702.5 82.4 689.5 79.9 671.5 78.9 657.5 76.4 650.5 72.9 630.5 71.7 610.5 71.8 590.5 74.8 535.5 74.6 520.5 73.2 480.5 69.5 411.5 65.2 356.5 65.2 350.5 65.7 346.5 66.5 346.5Z"/><path fill-rule="evenodd" fill="#ffffd7" d="M66.5 346.5 665.5 346.5 665.5 804.9 649.5 804.8 609.5 801.7 579.5 802.1 559.5 801.2 549.4 799.5 538.5 796.7 501.5 782.9 477.5 777.4 401.5 769.1 370.5 771.1 360.5 771.2 329.5 765.9 308.5 758.8 288.5 755.4 259.5 755.2 191.5 756.9 150.5 753.2 130.1 749.5 117.5 742.6 109.5 735.4 101.1 725.5 93.5 714.3 86.7 701.5 83.4 690.5 82.4 684.5 80.1 657.5 77.4 650.5 73.7 630.5 72.4 610.5 72.5 590.5 75.6 535.5 75.4 520.5 73.8 479.5 69.7 407.5 65.4 356.5 65.5 350.5 66 346.5 66.5 346.5Z"/><path fill-rule="evenodd" fill="#ebebe0" d="M66.5 346.5 665.5 346.5 665.5 802.9 649.5 802.8 609.5 799.5 580.5 800.1 559.5 799.1 539.5 794.8 499.5 779.5 479.5 774.2 429.5 768 400.5 765.3 370.5 767.4 359.5 767.7 329.5 763.6 308.5 756.5 289.5 753.4 258.5 753.3 189.5 755.1 176.5 753.5 150.5 751.7 133.5 748.9 129.5 747.9 117.5 741.3 110 734.5 102.2 725.5 93.9 713.5 87.4 701.5 84.2 690.5 83.1 683.5 81.4 656.5 78.7 650.5 74.5 630.5 73.1 610.5 73.2 590.5 76.5 535.5 76.2 520.5 74.4 480.5 70 407.5 65.7 357.5 65.7 350.5 66.5 346.5Z"/><path fill-rule="evenodd" fill="#c3c3bb" d="M66.5 347.5 66.5 346.5 665.5 346.5 665.5 801.4 649.5 801.4 610.5 798 580.5 798.5 559.5 797.4 538.5 792.9 499.5 777.5 479.5 771.6 429.5 765 399.5 762.5 358.5 765.2 329.5 762 309.5 755.1 299.5 753.9 289.5 751.8 259.5 751.7 189.5 753.8 167.7 751.5 149.5 750.4 133.5 747.8 129.5 746.8 118.5 740.9 110.5 733.9 102.4 724.5 94.7 713.5 88 701.5 84.8 690.5 83.9 684.5 82.5 656.5 79.1 648.5 75 629.5 73.7 610.5 73.7 590.5 77.2 535.5 76.9 520.5 70.5 408.5 66 357.5 66.5 347.5Z"/><path fill-rule="evenodd" fill="#9c9c97" d="M67.5 346.5 665.5 346.5 665.5 800.5 649.5 800.5 610.5 797 580.5 797.6 559.5 796.4 539.5 792.3 499.5 776.3 479.5 770.2 429.5 763.4 399.5 761 358.5 763.9 329.5 761 309.5 754.2 299.5 753 289.5 750.9 259.5 750.8 189.5 752.9 174.5 751.2 150.5 749.8 132.5 746.9 129.5 746 118.5 740.1 110.9 733.5 103 724.5 94.7 712.5 88.5 701.5 85.3 690.5 84.3 682.5 83.3 656.5 80.1 649.5 75.6 629.5 74.2 610.5 74.2 590.5 77.7 536.5 77.5 522.4 75.3 480.5 72.2 439.5 70.6 405.5 66.1 356.5 66.7 346.5 67.5 346.5Z"/><path fill-rule="evenodd" fill="#747472" d="M67.5 346.5 665.5 346.5 665.5 799.8 649.5 799.7 610.5 796.2 580.5 796.8 559.5 795.5 539.5 791.4 499.5 775.3 480.5 769.2 429.5 762 399.5 759.6 357.5 762.6 330.5 760.2 310.3 753.5 299.5 752.1 289.5 750 259.5 750 189.5 752.2 173.5 750.4 149.5 749 131.5 746.1 118.6 739.5 111.5 733.4 103.5 724.3 95.3 712.5 89 701.5 85.8 690.5 85 684.5 83.9 656.5 80.7 649.5 76.1 629.5 74.7 610.5 74.6 590.5 78.2 535.5 77.9 520.5 75.6 479.5 72.4 438.5 70.8 405.5 66.4 356.5 66.8 346.5 67.5 346.5Z"/><path fill-rule="evenodd" fill="#545454" d="M67.5 346.5 665.5 346.5 665.5 799 649.5 798.9 610.5 795.3 580.5 795.9 559.5 794.6 539.5 790.6 499.5 774.2 480.5 767.9 429.5 760.4 400.5 758.2 360.5 761.5 331.5 759.5 310.5 752.7 300.5 751.5 289.5 749.2 259.5 749.2 189.5 751.5 174.5 749.8 150.5 748.5 132.5 745.6 129.5 744.7 119.4 739.5 111.5 732.7 103.5 723.5 95.8 712.5 89.4 701.5 86.2 690.5 85.3 683.5 84.4 655.5 81.3 649.5 76.5 629.5 75.1 610.5 75 590.5 78.7 535.5 78.4 521.5 75.9 479.5 72.7 439.5 71.1 405.5 66.6 356.5 66.9 346.5 67.5 346.5Z"/><path fill-rule="evenodd" fill="#3c3c3c" d="M67.5 346.5 665.5 346.5 665.5 798.1 649.5 798.1 610.5 794.4 580.5 795.1 559.5 793.7 539.5 789.7 520.5 782.2 500.5 773.5 480.5 766.5 430.5 758.9 400.5 756.7 360.5 760.2 331.5 758.6 310.5 751.8 300.5 750.7 289.5 748.3 259.5 748.3 189.5 750.8 173.5 749 150.5 747.8 132.5 745 119.5 738.9 112 732.5 104 723.5 96.3 712.5 89.4 700.5 86.6 690.5 85.5 681.5 85 655.5 81.8 649.5 76.9 629.5 75.4 609.5 75.4 590.5 79.1 535.5 78.7 520.5 76.3 480.5 73 439.5 71.3 405.5 66.9 357.5 67.1 346.5 67.5 346.5Z"/><path fill-rule="evenodd" fill="#242424" d="M67.5 346.5 665.5 346.5 665.5 797.3 649.5 797.3 610.5 793.5 580.5 794.2 559.5 792.8 539.5 788.7 520.5 781.3 500.5 772.3 480.5 765 430.5 757.3 400.5 755.2 359.5 758.9 331.5 757.6 310.5 750.8 300.5 749.8 289.5 747.4 259.5 747.5 189.5 750 173.5 748.3 150.5 747.1 132.5 744.4 119.5 738.3 112.5 732.4 104.5 723.4 96.5 712.1 89.8 700.5 87 690.5 86 681.5 85.7 655.5 82.4 649.5 77.3 629.5 75.8 610.5 75.7 590.5 79.6 535.5 79.2 521.5 76.6 479.5 73.2 439.5 71.6 405.5 67.1 357.5 67.5 346.5Z"/><path fill-rule="evenodd" fill="#0c0c0c" d="M67.5 346.5 665.5 346.5 665.5 796.5 649.5 796.4 610.5 792.6 580.5 793.3 559.5 791.9 539.5 787.8 520.5 780.3 500.5 771.1 481.5 763.9 430.5 755.6 399.5 753.7 359.5 757.6 331.5 756.7 310.5 749.9 300.5 749 289.5 746.6 258.5 746.7 189.5 749.3 173.5 747.6 150.5 746.4 132.5 743.8 119.5 737.6 112.5 731.7 104.5 722.6 96.6 711.5 90.2 700.5 87.4 690.5 86.4 681.5 86.4 655.5 82.7 648.5 77.8 629.5 76.2 610.5 76.1 590.5 80 535.5 79.6 521.5 76.9 479.5 73.5 439.5 71.9 405.5 67.4 357.5 67.5 346.5Z"/><path fill-rule="evenodd" fill="#000000" d="M67.5 346.5 665.5 346.5 665.5 795.6 649.5 795.6 610.5 791.7 580.5 792.5 559.5 790.9 539.5 786.9 521.5 779.8 501.5 770.4 481.5 762.4 430.5 754 399.5 752.1 359.5 756.3 331.5 755.8 311.5 749.2 300.5 748.1 289.5 745.7 258.5 745.8 189.5 748.5 173.5 746.8 150.5 745.7 132.5 743.2 120.2 737.5 113 731.5 105 722.5 97.1 711.5 90.6 700.5 87.6 689.5 86.9 681.5 87.1 655.5 83.3 648.5 78.2 629.5 76.5 609.5 76.5 590.5 80.5 535.5 80 521.5 77.2 478.5 73.8 439.5 72.1 404.5 67.6 356.5 67.5 346.5Z"/></g></g>
<path d="M63.2 350.0 L63.2 357.0 L64.5 380.0 L65.9 405.0 L67.5 430.0 L67.9 440.0 L68.2 460.0 L68.2 480.0 L68.2 500.0 L67.8 520.0 L67.5 535.0 L67.2 550.0 L66.6 570.0 L65.9 590.0 L65.5 610.0 L66.0 630.0 L66.3 640.0 L67.0 650.0 L69.4 665.0 L70.6 674.0 L73.3 680.0 L75.7 690.0 L81.1 705.3 L85.6 716.0 L91.3 726.2 L98.6 736.3 L107.1 745.9 L117.3 755.5 L127.5 760.6 L137.6 763.4 L147.8 765.5 L158.0 766.8 L175.0 768.4 L195.0 771.4 L230.0 770.7 L260.0 770.7 L290.0 771.4 L300.0 772.9 L305.0 775.0 L320.0 780.2 L340.0 789.2 L355.0 795.5 L370.0 797.8 L390.0 796.2 L405.0 796.7 L420.0 800.5 L440.0 802.8 L460.0 802.8 L480.0 802.6 L500.0 801.5 L510.0 802.8 L520.0 806.2 L535.0 812.3 L545.0 816.4 L560.0 818.1 L600.0 817.8 L620.0 818.7 L654.0 820.0 L670.0 820.0" fill="none" stroke="#301000" stroke-width="2.0" stroke-linecap="round" stroke-dasharray="0.01 5.05" clip-path="url(#cc)"/>
<line x1="58.5" y1="357" x2="58.5" y2="853.6" stroke="#500800" stroke-opacity="0.55" stroke-width="1.3"/>
<line x1="58.5" y1="853.6" x2="654" y2="853.6" stroke="#500800" stroke-opacity="0.55" stroke-width="1.3"/>
<path d="M649.5 785.6H654M648.5 788.2H654M651 790.6H654" stroke="#9a9a9a" stroke-width="0.9"/>
<line x1="53.5" y1="834.2" x2="58.5" y2="834.2" stroke="#444" stroke-width="1.2"/>
<text x="46.4" y="838.8" text-anchor="end" font-size="13">45</text>
<line x1="53.5" y1="786.5" x2="58.5" y2="786.5" stroke="#444" stroke-width="1.2"/>
<text x="46.4" y="791.1" text-anchor="end" font-size="13">50</text>
<line x1="53.5" y1="738.8" x2="58.5" y2="738.8" stroke="#444" stroke-width="1.2"/>
<text x="46.4" y="743.4" text-anchor="end" font-size="13">55</text>
<line x1="53.5" y1="691.0" x2="58.5" y2="691.0" stroke="#444" stroke-width="1.2"/>
<text x="46.4" y="695.6" text-anchor="end" font-size="13">60</text>
<line x1="53.5" y1="643.3" x2="58.5" y2="643.3" stroke="#444" stroke-width="1.2"/>
<text x="46.4" y="647.9" text-anchor="end" font-size="13">65</text>
<line x1="53.5" y1="595.6" x2="58.5" y2="595.6" stroke="#444" stroke-width="1.2"/>
<text x="46.4" y="600.2" text-anchor="end" font-size="13">70</text>
<line x1="53.5" y1="547.9" x2="58.5" y2="547.9" stroke="#444" stroke-width="1.2"/>
<text x="46.4" y="552.5" text-anchor="end" font-size="13">75</text>
<line x1="53.5" y1="500.2" x2="58.5" y2="500.2" stroke="#444" stroke-width="1.2"/>
<text x="46.4" y="504.8" text-anchor="end" font-size="13">80</text>
<line x1="53.5" y1="452.4" x2="58.5" y2="452.4" stroke="#444" stroke-width="1.2"/>
<text x="46.4" y="457.0" text-anchor="end" font-size="13">85</text>
<line x1="53.5" y1="404.7" x2="58.5" y2="404.7" stroke="#444" stroke-width="1.2"/>
<text x="46.4" y="409.3" text-anchor="end" font-size="13">90</text>
<line x1="53.5" y1="357.0" x2="58.5" y2="357.0" stroke="#444" stroke-width="1.2"/>
<text x="46.4" y="361.6" text-anchor="end" font-size="13">95</text>
<line x1="58.5" y1="853.6" x2="58.5" y2="858.3" stroke="#444" stroke-width="1.2"/>
<text x="58.5" y="877.3" text-anchor="middle" font-size="12.3">0</text>
<line x1="124.7" y1="853.6" x2="124.7" y2="858.3" stroke="#444" stroke-width="1.2"/>
<text x="124.7" y="877.3" text-anchor="middle" font-size="12.3">2</text>
<line x1="190.8" y1="853.6" x2="190.8" y2="858.3" stroke="#444" stroke-width="1.2"/>
<text x="190.8" y="877.3" text-anchor="middle" font-size="12.3">4</text>
<line x1="257.0" y1="853.6" x2="257.0" y2="858.3" stroke="#444" stroke-width="1.2"/>
<text x="257.0" y="877.3" text-anchor="middle" font-size="12.3">6</text>
<line x1="323.1" y1="853.6" x2="323.1" y2="858.3" stroke="#444" stroke-width="1.2"/>
<text x="323.1" y="877.3" text-anchor="middle" font-size="12.3">8</text>
<line x1="389.3" y1="853.6" x2="389.3" y2="858.3" stroke="#444" stroke-width="1.2"/>
<text x="389.3" y="877.3" text-anchor="middle" font-size="12.3">10</text>
<line x1="455.5" y1="853.6" x2="455.5" y2="858.3" stroke="#444" stroke-width="1.2"/>
<text x="455.5" y="877.3" text-anchor="middle" font-size="12.3">12</text>
<line x1="521.6" y1="853.6" x2="521.6" y2="858.3" stroke="#444" stroke-width="1.2"/>
<text x="521.6" y="877.3" text-anchor="middle" font-size="12.3">14</text>
<line x1="587.8" y1="853.6" x2="587.8" y2="858.3" stroke="#444" stroke-width="1.2"/>
<text x="587.8" y="877.3" text-anchor="middle" font-size="12.3">16</text>
<line x1="653.9" y1="853.6" x2="653.9" y2="858.3" stroke="#444" stroke-width="1.2"/>
<text x="653.9" y="877.3" text-anchor="middle" font-size="12.3">18</text>
<text x="356" y="907.6" text-anchor="middle" font-size="16.5">Ageing Time (days)</text>
<text transform="translate(16.9,605.2) rotate(-90)" text-anchor="middle" font-size="16.75">Temperature (&#186;C)</text>
<text x="78.2" y="380.2" font-size="20" font-weight="bold" fill="#fff">c</text>
<text x="477.7" y="387.2" font-size="17.6" fill="#f4f4f4" textLength="150.8" lengthAdjust="spacingAndGlyphs">Seed Viability (%)</text>
<rect x="545.6" y="401.8" width="84.8" height="222.5" fill="#fff"/>
<rect x="555.3" y="412.2" width="30.9" height="14.4" fill="#000000"/>
<text x="594.4" y="424.0" font-size="12.5">0</text>
<rect x="555.3" y="431.0" width="30.9" height="14.4" fill="#000000"/>
<text x="594.4" y="442.8" font-size="12.5">10</text>
<rect x="555.3" y="449.8" width="30.9" height="14.4" fill="#606060"/>
<text x="594.4" y="461.6" font-size="12.5">20</text>
<rect x="555.3" y="468.6" width="30.9" height="14.4" fill="#fffff2"/>
<text x="594.4" y="480.4" font-size="12.5">30</text>
<rect x="555.3" y="487.4" width="30.9" height="14.4" fill="#ffff1a"/>
<text x="594.4" y="499.2" font-size="12.5">40</text>
<rect x="555.3" y="506.2" width="30.9" height="14.4" fill="#ffd900"/>
<text x="594.4" y="518.0" font-size="12.5">50</text>
<rect x="555.3" y="525.1" width="30.9" height="14.4" fill="#fca11d"/>
<text x="594.4" y="536.9" font-size="12.5">60</text>
<rect x="555.3" y="543.9" width="30.9" height="14.4" fill="#ff8670"/>
<text x="594.4" y="555.7" font-size="12.5">70</text>
<rect x="555.3" y="562.7" width="30.9" height="14.4" fill="#fa6a50"/>
<text x="594.4" y="574.5" font-size="12.5">80</text>
<rect x="555.3" y="581.5" width="30.9" height="14.4" fill="#f54320"/>
<text x="594.4" y="593.3" font-size="12.5">90</text>
<rect x="555.3" y="600.3" width="30.9" height="14.4" fill="#fb0303"/>
<text x="594.4" y="612.1" font-size="12.5">100</text>
</g>
</svg>
</body></html>
